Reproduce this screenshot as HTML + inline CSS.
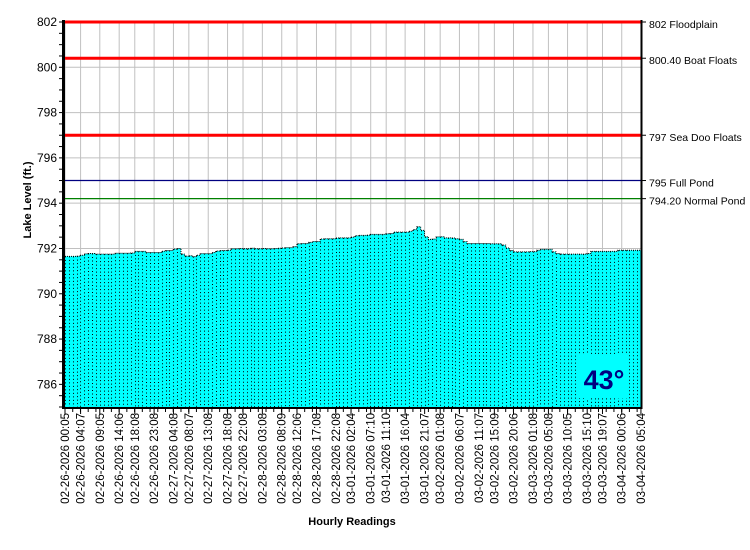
<!DOCTYPE html>
<html><head><meta charset="utf-8"><style>
html,body{margin:0;padding:0;background:#fff;}
svg{display:block;font-family:"Liberation Sans",Arial,sans-serif;}
</style></head><body>
<svg id="chart" width="750" height="550" viewBox="0 0 750 550"></svg>
<script>
const levels = [791.65,791.65,791.65,791.66,791.70,791.76,791.78,791.78,791.75,791.75,
791.75,791.75,791.75,791.79,791.79,791.79,791.79,791.80,791.87,791.87,
791.87,791.82,791.82,791.82,791.82,791.88,791.91,791.91,791.97,792.00,
791.75,791.66,791.68,791.64,791.70,791.77,791.77,791.77,791.82,791.89,
791.91,791.91,791.92,791.99,791.99,792.00,791.99,791.99,792.01,791.99,
791.99,792.00,791.99,791.99,792.00,792.01,792.02,792.04,792.04,792.08,
792.21,792.22,792.22,792.27,792.31,792.31,792.42,792.43,792.43,792.43,
792.46,792.47,792.47,792.47,792.50,792.56,792.58,792.58,792.59,792.62,
792.62,792.62,792.62,792.65,792.66,792.72,792.72,792.72,792.72,792.76,
792.83,792.96,792.80,792.52,792.40,792.42,792.51,792.52,792.47,792.47,
792.46,792.43,792.40,792.30,792.22,792.22,792.22,792.22,792.22,792.22,
792.21,792.21,792.21,792.15,792.02,791.91,791.85,791.85,791.85,791.85,
791.86,791.86,791.92,791.96,791.96,791.96,791.85,791.78,791.75,791.75,
791.75,791.75,791.75,791.75,791.75,791.78,791.87,791.87,791.87,791.87,
791.87,791.87,791.87,791.92,791.92,791.92,791.92,791.92,791.92,791.92];
const xLabels = ["02-26-2026 00:05","02-26-2026 04:07","02-26-2026 09:05","02-26-2026 14:06","02-26-2026 18:08","02-26-2026 23:08","02-27-2026 04:08","02-27-2026 08:07","02-27-2026 13:08","02-27-2026 18:08","02-27-2026 22:08","02-28-2026 03:08","02-28-2026 08:09","02-28-2026 12:06","02-28-2026 17:08","02-28-2026 22:08","03-01-2026 02:04","03-01-2026 07:10","03-01-2026 11:10","03-01-2026 16:04","03-01-2026 21:07","03-02-2026 01:08","03-02-2026 06:07","03-02-2026 11:07","03-02-2026 15:09","03-02-2026 20:06","03-03-2026 01:08","03-03-2026 05:08","03-03-2026 10:05","03-03-2026 15:10","03-03-2026 19:07","03-04-2026 00:06","03-04-2026 05:04"];
const yTicks = [786,788,790,792,794,796,798,800,802];
const refValues = [802,800.4,797,795,794.2];
const refLabels = ["802 Floodplain","800.40 Boat Floats","797 Sea Doo Floats","795 Full Pond","794.20 Normal Pond"];
const refColors = ["#ff0000","#ff0000","#ff0000","#000080","#008000"];
const refWidths = [3,3,3,1.2,1.2];
const temperature = "43°";

const NS="http://www.w3.org/2000/svg";
const svg=document.getElementById('chart');
const X0=65,X1=641,Y0=407,Y1=22,VMIN=785,VMAX=802;
const nH=levels.length-1;
const xs=h=>X0+(h/nH)*(X1-X0);
const ys=v=>Y0-(v-VMIN)/(VMAX-VMIN)*(Y0-Y1);
function mk(tag,attrs,parent){const e=document.createElementNS(NS,tag);for(const k in attrs)e.setAttribute(k,attrs[k]);(parent||svg).appendChild(e);return e;}
const startT=0+5/60;
function labelHour(s){const p=s.split(' ');const d=p[0].split('-');const m=+d[0],day=+d[1];const t=p[1].split(':');const dayIdx=m===2?day-26:day+2;return dayIdx*24+(+t[0])+(+t[1])/60-startT;}

const grid=mk('g',{});


yTicks.forEach(v=>{mk('line',{x1:X0,x2:X1,y1:ys(v),y2:ys(v),stroke:'#c0c0c0','stroke-width':1},grid);});
xLabels.forEach(s=>{const x=xs(labelHour(s));mk('line',{x1:x,x2:x,y1:Y1,y2:Y0,stroke:'#c0c0c0','stroke-width':1},grid);});

const area=mk('g',{});


let areaPath='M'+xs(0)+','+Y0;
levels.forEach((v,i)=>{const x0=xs(i),x1=xs(Math.min(i+1,nH));areaPath+=' L'+x0+','+ys(v)+' L'+(i===nH?x0:x1)+','+ys(v);});
areaPath+=' L'+xs(nH)+','+Y0+' Z';
mk('path',{d:areaPath,fill:'#00ffff',stroke:'none'},area);
levels.forEach((v,i)=>{const x=Math.round(xs(i))+0.5;const b=mk('line',{x1:x,x2:x,y1:ys(v),y2:Y0,stroke:'#000','stroke-width':1,'stroke-dasharray':'1,2.5'},area);

});
let topPath='';levels.forEach((v,i)=>{topPath+=(i?' L':'M')+xs(i)+','+ys(v)+' L'+xs(Math.min(i+1,nH))+','+ys(v);});
mk('path',{d:topPath,fill:'none',stroke:'#000','stroke-width':1,'stroke-dasharray':'1,1'},area);

refValues.forEach((v,i)=>{const g=mk('g',{});


mk('line',{x1:X0,x2:X1,y1:ys(v),y2:ys(v),stroke:refColors[i],'stroke-width':refWidths[i]},g);
mk('line',{x1:X1,x2:X1+5,y1:ys(v),y2:ys(v),stroke:'#000'},g);
const t=mk('text',{x:649,y:ys(v)+6,'font-size':10.5,fill:'#000'},g);t.textContent=refLabels[i];});

const ya=mk('line',{x1:X0-1.5,x2:X0-1.5,y1:Y1-2,y2:Y0+2,stroke:'#000','stroke-width':3});


const xa=mk('line',{x1:X0-3,x2:X1+1,y1:Y0+1,y2:Y0+1,stroke:'#000','stroke-width':2});


const ra=mk('line',{x1:X1+0.5,x2:X1+0.5,y1:Y1-2,y2:Y0+2,stroke:'#000','stroke-width':2});


for(let v=VMIN;v<=VMAX;v+=0.5){mk('line',{x1:X0-6,x2:X0-3,y1:ys(v),y2:ys(v),stroke:'#000'});}
yTicks.forEach(v=>{const t=mk('text',{x:57,y:ys(v)+4,'font-size':12,'text-anchor':'end',fill:'#000'});


t.textContent=v;});
for(let h=0;h<=nH;h+=2){mk('line',{x1:xs(h),x2:xs(h),y1:Y0+2,y2:Y0+5,stroke:'#000'});}
xLabels.forEach(s=>{const x=xs(labelHour(s));
mk('line',{x1:x,x2:x,y1:Y0+2,y2:Y0+7,stroke:'#000'});
const t=mk('text',{x:0,y:0,'font-size':11.5,'text-anchor':'end',fill:'#000',transform:'translate('+(x+4)+',413) rotate(-90)'});


t.textContent=s;});

const yt=mk('text',{x:0,y:0,'font-size':11,'font-weight':'bold','text-anchor':'middle',transform:'translate(31,200) rotate(-90)'});


yt.textContent='Lake Level (ft.)';
const xt=mk('text',{x:352,y:525,'font-size':11,'font-weight':'bold','text-anchor':'middle'});


xt.textContent='Hourly Readings';

const tb=mk('g',{});


mk('rect',{x:577,y:354,width:52,height:44,fill:'#00ffff'},tb);
const tt=mk('text',{x:604,y:389,'font-size':27,'font-weight':'bold','text-anchor':'middle',fill:'#000080'},tb);
tt.textContent=temperature;
</script>
</body></html>
